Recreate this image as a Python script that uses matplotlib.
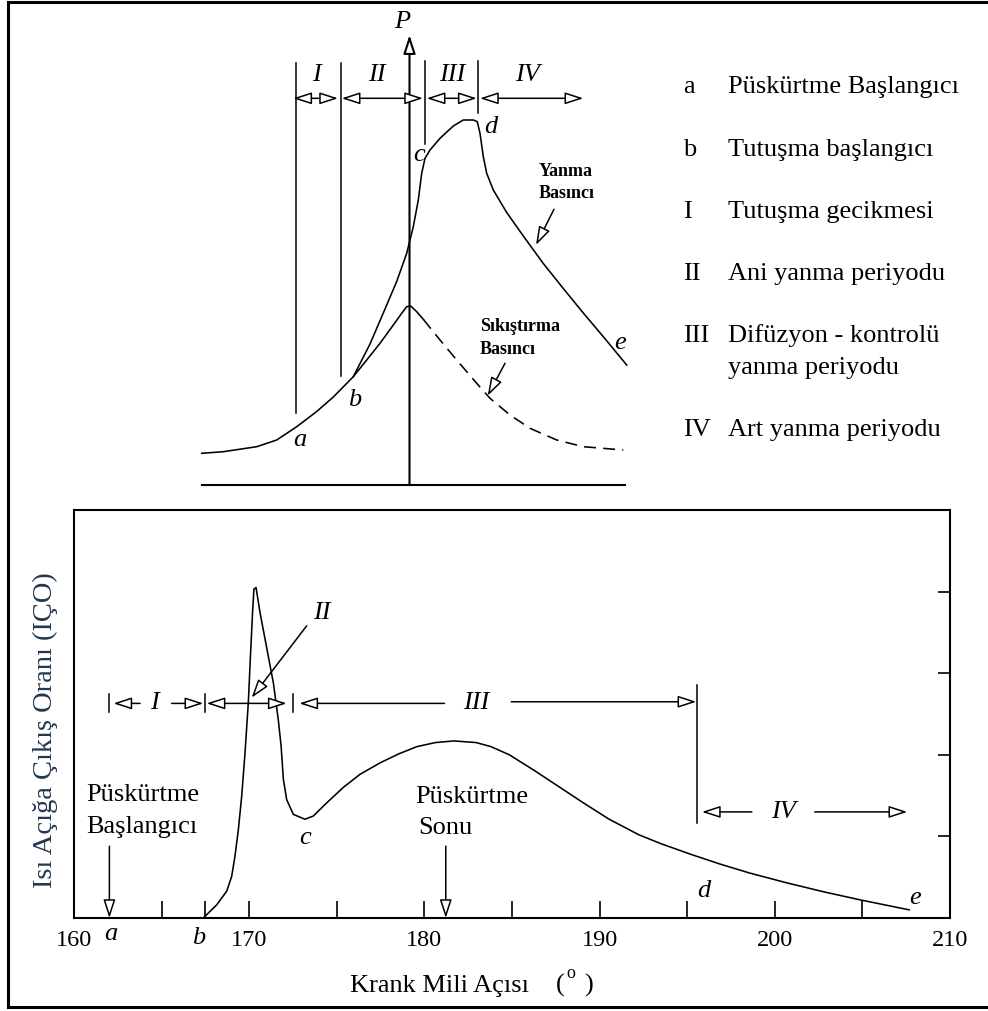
import matplotlib
matplotlib.use("Agg")
import matplotlib.pyplot as plt
from matplotlib.lines import Line2D

plt.rcParams['font.family'] = ['Liberation Serif', 'DejaVu Serif']

# ---------------- data: top schematic (angle rel. TDC, pressure, arbitrary units)
comp_solid_x = [-208.3, -186.7, -153.3, -133.3, -113.3, -93.3, -76.7, -56.7, -43.3, -30, -16.7, -8.3, -3.3, 0.7, 6.7, 13.3]
comp_solid_p = [33.7, 35.3, 40.3, 47, 60.3, 75.5, 90, 110.3, 127, 143.7, 162, 173.7, 180.3, 181, 175.3, 167.7]
comp_dash_x = [13.3, 30, 46.7, 66.7, 80, 100, 120, 146.7, 173.3, 213.3]
comp_dash_p = [167.7, 147, 127, 103.7, 88.7, 72, 58.7, 47, 40.3, 37]
comb_x = [-56.7, -40, -26.7, -13.3, -3.3, 3.3, 8.3, 11.7, 15, 20, 30, 43.3, 53.3, 63.3, 67.3, 70, 73.3,
          76.7, 83.3, 96.7, 113.3, 133.3, 153.3, 173.3, 193.3, 216.7]
comb_p = [110.3, 143, 174, 205.5, 233.7, 260.3, 287, 313.7, 328.7, 337, 348.7, 361, 367, 367, 365.3, 353.7, 330.3,
          313.7, 297, 274.5, 251, 223.5, 198.5, 174, 150.3, 122]
top_marks_x = {'a': -114, 'b': -69.3, 'c': 15.3, 'd': 68.3}
top_marks_y = {'a': (74, 424), 'b': (111, 424), 'c': (343, 426), 'd': (374, 426)}
phase_top = [('I', -116.7, -72), ('II', -68.3, 13), ('III', 16.7, 66.7), ('IV', 70, 173.3)]
phase_top_lab = {'I': -94, 'II': -33, 'III': 42, 'IV': 118}
pt_labels = {'a': (-110, 47), 'b': (-55, 87), 'c': (9.3, 332), 'd': (81, 360), 'e': (210, 144)}

# ---------------- data: bottom heat release rate
hrr_angle = [167.38, 168.14, 168.72, 169.0, 169.19, 169.38, 169.57, 169.76, 169.95, 170.08, 170.2, 170.27, 170.39,
             170.62, 171.0, 171.38, 171.66, 171.82, 171.95, 172.14, 172.52, 173.18, 173.66, 174.42, 175.37, 176.32,
             177.46, 178.52, 179.57, 180.63, 181.68, 182.95, 183.80, 184.85, 186.33, 187.60, 189.08, 190.55,
             192.24, 193.51, 195.21, 196.89, 198.58, 200.70, 202.81, 204.92, 207.67]
hrr_value = [0.0, 0.16, 0.33, 0.51, 0.76, 1.08, 1.49, 2.02, 2.64, 3.25, 3.78, 4.03, 4.05,
             3.74, 3.31, 2.88, 2.43, 2.11, 1.70, 1.45, 1.27, 1.21, 1.25, 1.41, 1.60, 1.76,
             1.90, 2.01, 2.10, 2.15, 2.17, 2.15, 2.10, 2.00, 1.80, 1.62, 1.41, 1.21,
             1.02, 0.91, 0.78, 0.66, 0.55, 0.43, 0.32, 0.22, 0.10]
x_ticks = [160, 170, 180, 190, 200, 210]
x_minor = [165, 167.5, 175, 185, 195, 205]
y_ticks = [1, 2, 3, 4]
legend_keys = ['a', 'b', 'I', 'II', 'III', '', 'IV']
legend_texts = ['Püskürtme Başlangıcı', 'Tutuşma başlangıcı', 'Tutuşma gecikmesi', 'Ani yanma periyodu',
                'Difüzyon - kontrolü', 'yanma periyodu', 'Art yanma periyodu']
legend_base_px = [93, 156, 218, 280, 342, 374, 436]

W, H = 988, 1011
fig = plt.figure(figsize=(W / 100, H / 100), dpi=100)


def fx(px):
    return px / W


def fy(py):
    return 1 - py / H


def arrow(ax, tip, tail, style='-|>', lw=1.1):
    ax.annotate('', xy=tip, xytext=tail,
                arrowprops=dict(arrowstyle=style + ',head_length=0.8,head_width=0.26', fc='white', ec='black',
                                lw=lw, shrinkA=0, shrinkB=0, mutation_scale=14))


# outer frame (left, top, bottom)
for xs, ys in [([7.5, 7.5], [2, 1007]), ([7.5, 988], [2, 2]), ([7.5, 988], [1007, 1007])]:
    fig.add_artist(Line2D([fx(v) for v in xs], [fy(v) for v in ys], color='black', lw=2.2,
                          transform=fig.transFigure))

# ---------------- top schematic
axT = fig.add_axes([fx(190), fy(495), 450 / W, 480 / H])
axT.set_xlim(-220, 230)
axT.set_ylim(-8, 472)
axT.axis('off')
axT.plot([-208, 215], [2, 2], color='black', lw=1.5)
arrow(axT, (-0.5, 452), (-0.5, 2), lw=1.5)
axT.plot(comp_solid_x, comp_solid_p, color='black', lw=1.15, solid_joinstyle='round')
axT.plot(comp_dash_x, comp_dash_p, color='black', lw=1.15, dashes=(7.5, 4.5))
axT.plot(comb_x, comb_p, color='black', lw=1.15, solid_joinstyle='round')
for k, xv in top_marks_x.items():
    axT.plot([xv, xv], top_marks_y[k], color='black', lw=1.1)
for name, x0, x1 in phase_top:
    arrow(axT, (x1, 388.7), (x0, 388.7), style='<|-|>')
    axT.text(phase_top_lab[name], 412, name, style='italic', fontsize=19, ha='center', va='center')
axT.text(-8, 465, 'P', style='italic', fontsize=19, ha='center', va='center')
for k, (xv, yv) in pt_labels.items():
    axT.text(xv, yv, k, style='italic', fontsize=19, ha='center', va='center')
axT.text(128.3, 315.3, 'Yanma', fontweight='bold', fontsize=13, ha='left', va='center')
axT.text(128.3, 293.7, 'Basıncı', fontweight='bold', fontsize=13, ha='left', va='center')
arrow(axT, (126, 242), (144, 277.7))
axT.text(70, 160.3, 'Sıkıştırma', fontweight='bold', fontsize=13, ha='left', va='center')
axT.text(70, 137.7, 'Basıncı', fontweight='bold', fontsize=13, ha='left', va='center')
arrow(axT, (77.7, 91.3), (95, 123.7))

# legend texts
for key, txt, yb in zip(legend_keys, legend_texts, legend_base_px):
    if key:
        fig.text(fx(683), fy(yb), key, fontsize=19, ha='left', va='baseline')
    fig.text(fx(728), fy(yb), txt, fontsize=19, ha='left', va='baseline')

# ---------------- bottom chart
ax = fig.add_axes([fx(74), fy(918), 876 / W, 408 / H])
ax.set_xlim(160, 210)
ax.set_ylim(0, 5)
for s in ax.spines.values():
    s.set_linewidth(1.5)
ax.set_xticks(x_ticks)
ax.set_xticklabels([str(v) for v in x_ticks], fontsize=17.5)
ax.set_xticks(x_minor, minor=True)
ax.tick_params(axis='x', which='both', direction='in', length=12, width=1.2, pad=9, top=False)
ax.yaxis.tick_right()
ax.set_yticks(y_ticks)
ax.tick_params(axis='y', direction='in', length=9, width=1.2, labelright=False, left=False)

ax.plot(hrr_angle, hrr_value, color='black', lw=1.15, solid_joinstyle='round')

# phase arrows
yI = 2.63
for xb in [162.02, 167.48, 172.52]:
    ax.plot([xb, xb], [yI - 0.11, yI + 0.11], color='black', lw=1.1)
arrow(ax, (162.25, yI), (163.77, yI))
arrow(ax, (167.38, yI), (165.57, yI))
arrow(ax, (172.14, yI), (167.57, yI), style='<|-|>')
arrow(ax, (172.86, yI), (181.15, yI))
arrow(ax, (195.52, 2.65), (184.96, 2.65))
ax.plot([195.56, 195.56], [1.17, 2.85], color='black', lw=1.1)
arrow(ax, (195.84, 1.30), (198.69, 1.30))
arrow(ax, (207.56, 1.30), (202.28, 1.30))
ax.text(164.62, yI, 'I', style='italic', fontsize=19, ha='center', va='center')
ax.text(182.95, yI, 'III', style='italic', fontsize=19, ha='center', va='center')
ax.text(200.49, 1.30, 'IV', style='italic', fontsize=19, ha='center', va='center')
ax.text(174.14, 3.74, 'II', style='italic', fontsize=19, ha='center', va='center')
arrow(ax, (170.14, 2.70), (173.28, 3.58))

# injection annotations
ax.text(160.72, 1.43, 'Püskürtme', fontsize=19, ha='left', va='baseline')
ax.text(160.72, 1.04, 'Başlangıcı', fontsize=19, ha='left', va='baseline')
arrow(ax, (162.02, 0.0), (162.02, 0.88))
ax.text(179.46, 1.41, 'Püskürtme', fontsize=19, ha='left', va='baseline')
ax.text(179.67, 1.03, 'Sonu', fontsize=19, ha='left', va='baseline')
arrow(ax, (181.22, 0.0), (181.22, 0.88))

# point labels
ax.text(173.18, 0.98, 'c', style='italic', fontsize=19, ha='center', va='center')
ax.text(195.94, 0.33, 'd', style='italic', fontsize=19, ha='center', va='center')
ax.text(207.98, 0.25, 'e', style='italic', fontsize=19, ha='center', va='center')
ax.text(162.1, -0.2, 'a', style='italic', fontsize=19, ha='center', va='center', clip_on=False)
ax.text(167.1, -0.24, 'b', style='italic', fontsize=19, ha='center', va='center', clip_on=False)

# axis labels
fig.text(fx(45), fy(730), 'Isı Açığa Çıkış Oranı (IÇO)', rotation=90, fontsize=20.5, color='#22384f',
         ha='center', va='center')
fig.text(fx(350), fy(992), 'Krank Mili Açısı', fontsize=19, ha='left', va='baseline')
fig.text(fx(556), fy(992), '(', fontsize=19, ha='left', va='baseline')
fig.text(fx(566), fy(978), 'o', fontsize=13, ha='left', va='baseline')
fig.text(fx(584), fy(992), ')', fontsize=19, ha='left', va='baseline')

fig.savefig('out.png', dpi=100)
